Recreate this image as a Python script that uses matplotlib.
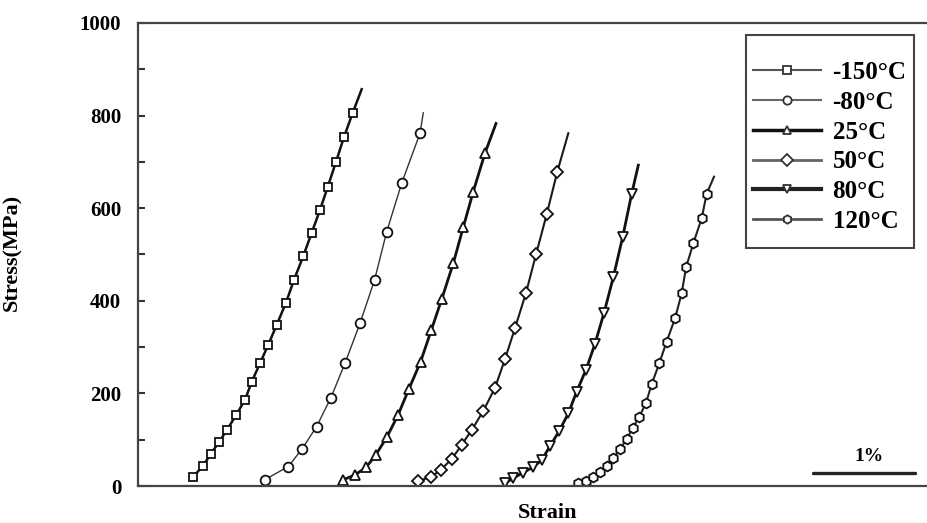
import matplotlib
matplotlib.use("Agg")
import matplotlib.pyplot as plt
from matplotlib.patches import Rectangle

plt.rcParams['font.family'] = ['Liberation Serif', 'DejaVu Serif']
plt.rcParams['font.weight'] = 'bold'

# ---- data (strain in %, stress in MPa); last point of each list is the line end (no marker)
labels = ['-150°C', '-80°C', '25°C', '50°C', '80°C', '120°C']

strain_m150 = [0.542, 0.634, 0.713, 0.797, 0.875, 0.961, 1.049, 1.115, 1.196, 1.277, 1.360,
               1.451, 1.529, 1.621, 1.703, 1.784, 1.860, 1.941, 2.020, 2.105, 2.193]
stress_m150 = [20, 43, 69, 96, 122, 153, 186, 225, 265, 305, 348,
               396, 445, 497, 547, 596, 646, 700, 754, 806, 857]

strain_m80 = [1.245, 1.474, 1.608, 1.750, 1.892, 2.029, 2.176, 2.319, 2.438, 2.585, 2.765, 2.797]
stress_m80 = [14, 42, 80, 128, 191, 265, 351, 445, 549, 654, 762, 806]

strain_25 = [2.007, 2.127, 2.235, 2.331, 2.441, 2.549, 2.655, 2.770, 2.876, 2.977, 3.091,
             3.189, 3.287, 3.402, 3.510]
stress_25 = [13, 24, 40, 67, 106, 153, 209, 268, 337, 403, 481, 559, 636, 719, 783]

strain_50 = [2.748, 2.870, 2.968, 3.075, 3.174, 3.272, 3.385, 3.500, 3.598, 3.696, 3.804,
             3.902, 4.007, 4.111, 4.219]
stress_50 = [11, 19, 35, 58, 89, 121, 162, 212, 274, 341, 417, 500, 587, 679, 762]

strain_80 = [3.598, 3.679, 3.777, 3.875, 3.958, 4.039, 4.130, 4.219, 4.301, 4.392, 4.480,
             4.569, 4.660, 4.752, 4.840, 4.905]
stress_80 = [6, 17, 29, 41, 56, 86, 119, 157, 204, 251, 307, 374, 451, 538, 631, 693]

strain_120 = [4.317, 4.392, 4.464, 4.529, 4.595, 4.660, 4.725, 4.791, 4.850, 4.915, 4.980,
              5.036, 5.111, 5.183, 5.265, 5.330, 5.373, 5.444, 5.526, 5.575, 5.647]
stress_120 = [7, 11, 20, 31, 43, 60, 79, 101, 125, 150, 179, 220, 265, 312, 362, 416,
              472, 524, 578, 631, 668]

y_ticks = [0, 200, 400, 600, 800, 1000]
scale_bar_start = 6.618   # strain %, start of the "1%" scale bar
scale_bar_len = 1.0
scale_bar_y = 28
scale_label_y = 63

series = [
    (strain_m150, stress_m150, 's', 1.8, '#111111', 5.8),
    (strain_m80, stress_m80, 'o', 1.0, '#333333', 7.0),
    (strain_25, stress_25, '^', 2.0, '#111111', 7.0),
    (strain_50, stress_50, 'D', 1.5, '#1a1a1a', 6.0),
    (strain_80, stress_80, 'v', 2.0, '#111111', 7.0),
    (strain_120, stress_120, 'h', 1.5, '#222222', 7.0),
]
legend_colors = ['#555555', '#666666', '#111111', '#666666', '#222222', '#555555']
legend_lw = [1.5, 1.5, 2.5, 2.0, 3.0, 2.0]

fig = plt.figure(figsize=(9.28, 5.23), dpi=100)
ax = fig.add_axes([138 / 928, 1 - 486 / 523, 790 / 928, 463 / 523])

for (xs, ys, mk, lw, col, ms), lab in zip(series, labels):
    ax.plot(xs, ys, '-', color=col, lw=lw, marker=mk, markersize=ms,
            markerfacecolor='white', markeredgecolor='#111111', markeredgewidth=1.3,
            markevery=slice(0, len(xs) - 1), label=lab)

ax.set_xlim(0, 790 / 102)
ax.set_ylim(0, 1000)
ax.set_yticks(y_ticks)
ax.set_yticks([100, 300, 500, 700, 900], minor=True)
ax.set_xticks([])
ax.tick_params(axis='y', which='both', direction='in', length=5, width=1.5,
               color='#333333', labelsize=15, pad=12)
for lbl in ax.get_yticklabels():
    lbl.set_fontweight('bold')
ax.spines['right'].set_visible(False)
for side in ['left', 'top', 'bottom']:
    ax.spines[side].set_color('#444444')
    ax.spines[side].set_linewidth(1.6)

ax.set_ylabel('Stress(MPa)', fontsize=16, fontweight='bold')
ax.yaxis.set_label_coords(-0.147, 0.505)
ax.set_xlabel('Strain', fontsize=16, fontweight='bold')
ax.xaxis.set_label_coords(0.518, -0.037)

# scale bar
ax.plot([scale_bar_start, scale_bar_start + scale_bar_len], [scale_bar_y, scale_bar_y],
        color='#222222', lw=2.4, solid_capstyle='round')
ax.text(scale_bar_start + scale_bar_len / 2 + 0.05, scale_label_y, '1%', ha='center',
        va='center', fontsize=14, fontweight='bold')

# legend
handles, labs = ax.get_legend_handles_labels()
leg = ax.legend(handles, labs, loc='center left', bbox_to_anchor=(0.778, 0.732),
                frameon=False, fontsize=18, handlelength=2.75, handletextpad=0.45,
                labelspacing=0.27, borderpad=0, borderaxespad=0)
for h, c, lw in zip(leg.legend_handles, legend_colors, legend_lw):
    h.set_color(c)
    h.set_linewidth(lw)
    h.set_markeredgecolor('#333333')
    h.set_markersize(6)
for t in leg.get_texts():
    t.set_fontweight('bold')
ax.add_patch(Rectangle((0.770, 0.514), 0.212, 0.460, transform=ax.transAxes,
                       fill=False, edgecolor='#444444', lw=1.5, zorder=5))

fig.savefig('out.png', dpi=100)
